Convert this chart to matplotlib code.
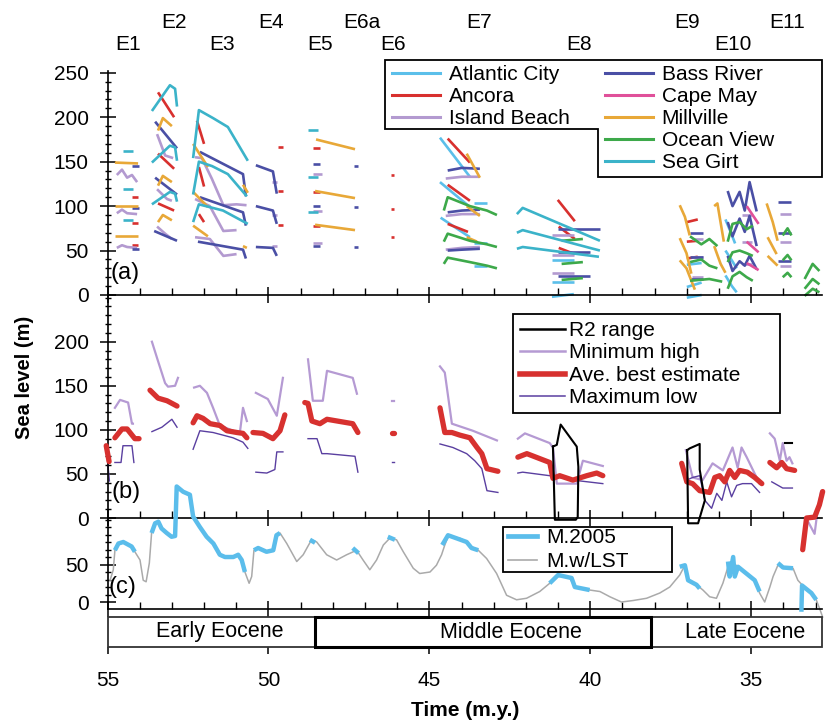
import matplotlib
matplotlib.use('Agg')
import matplotlib.pyplot as plt
from matplotlib.lines import Line2D
from matplotlib.patches import Polygon, Rectangle
from matplotlib.ticker import MultipleLocator, FixedLocator
import matplotlib.transforms as mtransforms

plt.rcParams['font.family'] = ['Liberation Sans', 'DejaVu Sans']

# ---------------- colours ----------------
C_AC = '#5bbfea'   # Atlantic City
C_AN = '#d8302e'   # Ancora
C_IB = '#b39ad0'   # Island Beach
C_BR = '#4a4fa5'   # Bass River
C_CM = '#e0509a'   # Cape May
C_MV = '#e8a838'   # Millville
C_OV = '#3da94a'   # Ocean View
C_SG = '#3bb3c9'   # Sea Girt

# ---------------- sequence labels ----------------
seq_top_names = ['E2', 'E4', 'E6a', 'E7', 'E9', 'E11']
seq_top_times = [52.93, 49.92, 47.10, 43.46, 37.00, 33.89]
seq_low_names = ['E1', 'E3', 'E5', 'E6', 'E8', 'E10']
seq_low_times = [54.36, 51.44, 48.40, 46.14, 40.36, 35.57]

# ---------------- panel (a): wells, segments (time Ma, sea level m) ----------------
atlantic_city = [
    ([44.67, 43.74], [177, 133]), ([44.67, 43.74], [127, 99]), ([44.65, 43.74], [87, 65]),
    ([43.62, 43.21], [104, 104]), ([43.62, 43.21], [58, 58]), ([43.62, 43.21], [33, 33]),
    ([41.19, 40.51], [39, 39]), ([41.19, 40.51], [15, 15]), ([41.19, 40.51], [-2, 1]),
    ([37.00, 36.54], [34, 36]), ([37.00, 36.54], [9, 14]), ([37.00, 36.54], [-3, 0]),
    ([35.80, 35.65, 35.50], [85, 72, 58]), ([35.80, 35.62, 35.45], [50, 40, 30]),
    ([35.80, 35.60, 35.45], [22, 10, 3]),
]
ancora = [
    ([54.24, 54.05], [110, 110]), ([54.24, 54.05], [81, 81]), ([54.24, 54.05], [56, 56]),
    ([53.43, 52.93], [228, 200]), ([53.43, 52.93], [159, 142]), ([53.43, 52.93], [103, 95]),
    ([52.22, 52.00], [196, 170]), ([52.16, 52.00], [144, 122]), ([52.16, 52.00], [91, 82]),
    ([49.70, 49.55], [166, 166]), ([49.70, 49.55], [117, 117]), ([49.70, 49.55], [79, 79]),
    ([48.62, 48.40], [165, 165]), ([48.62, 48.40], [116, 116]), ([48.62, 48.40], [78, 78]),
    ([46.20, 46.10], [135, 135]), ([46.20, 46.10], [97, 97]), ([46.20, 46.10], [65, 65]),
    ([44.43, 43.74], [176, 149]), ([44.43, 43.74], [124, 106]), ([44.43, 43.80], [80, 71]),
    ([41.01, 40.48], [107, 83]), ([40.98, 40.48], [77, 63]), ([40.98, 40.48], [53, 46]),
    ([37.00, 36.66], [82, 85]), ([37.00, 36.66], [60, 61]), ([37.00, 36.66], [41, 43]),
]
island_beach = [
    ([54.71, 54.55, 54.39, 54.24, 54.08], [135, 141, 132, 135, 127]),
    ([54.71, 54.55, 54.39, 54.08], [92, 96, 92, 91]),
    ([54.71, 54.55, 54.39, 54.08], [53, 56, 54, 53]),
    ([53.46, 53.21, 52.96], [181, 157, 154]),
    ([53.46, 53.15, 53.00], [119, 108, 106]),
    ([53.46, 53.21, 53.00], [77, 69, 63]),
    ([52.28, 52.07, 51.76, 51.40, 50.99, 50.68], [155, 154, 131, 101, 102, 101]),
    ([52.28, 51.82, 51.40, 50.99], [108, 100, 72, 73]),
    ([52.28, 51.82, 51.40, 50.99], [65, 63, 44, 46]),
    ([49.89, 49.74], [127, 127]), ([49.89, 49.74], [90, 90]), ([49.89, 49.74], [55, 55]),
    ([48.62, 48.34], [136, 136]), ([48.62, 48.34], [95, 95]), ([48.62, 48.34], [58, 58]),
    ([44.49, 43.99, 43.43], [131, 133, 133]), ([44.49, 43.99, 43.43], [89, 91, 91]),
    ([44.49, 43.99, 43.43], [51, 53, 54]),
    ([41.19, 40.51], [68, 68]), ([41.19, 40.51], [45, 45]), ([41.19, 40.51], [25, 25]),
    ([36.85, 36.51], [63, 63]), ([36.85, 36.51], [43, 43]), ([36.85, 36.51], [20, 20]),
    ([35.30, 34.99], [90, 90]), ([35.30, 34.99], [60, 60]), ([35.30, 34.99], [35, 35]),
    ([34.11, 33.75], [91, 91]), ([34.11, 33.75], [60, 60]), ([34.11, 33.75], [33, 33]),
]
bass_river = [
    ([54.24, 54.02], [145, 145]), ([54.24, 54.02], [98, 98]), ([54.24, 54.02], [52, 52]),
    ([53.52, 52.84], [195, 165]), ([53.52, 52.84], [132, 113]), ([53.55, 52.84], [72, 61]),
    ([52.13, 50.79, 50.70], [161, 136, 111]), ([52.13, 50.79, 50.70], [110, 93, 78]),
    ([52.19, 50.79, 50.70], [60, 51, 41]),
    ([50.39, 49.86, 49.74], [146, 139, 114]), ([50.39, 49.86, 49.74], [100, 95, 80]),
    ([50.39, 49.86, 49.74], [54, 53, 44]),
    ([48.62, 48.40], [147, 147]), ([48.62, 48.40], [100, 100]), ([48.62, 48.40], [55, 55]),
    ([47.35, 47.22], [145, 145]), ([47.35, 47.22], [99, 99]), ([47.35, 47.22], [54, 54]),
    ([44.43, 43.99, 43.43], [140, 143, 142]), ([44.43, 43.99, 43.43], [93, 95, 96]),
    ([44.43, 43.99, 43.43], [50, 51, 52]),
    ([41.01, 39.70], [74, 74]), ([41.01, 40.02], [48, 48]), ([41.01, 40.02], [21, 21]),
    ([36.91, 36.51], [70, 70]), ([36.91, 36.51], [43, 43]), ([36.91, 36.51], [18, 18]),
    ([35.73, 35.58, 35.36, 35.20, 35.05, 34.83], [117, 100, 116, 95, 127, 94]),
    ([35.73, 35.58, 35.36, 35.20, 35.05, 34.83], [82, 66, 86, 71, 89, 55]),
    ([35.73, 35.58, 35.36, 35.20, 35.05, 34.83], [44, 27, 38, 33, 44, 29]),
    ([34.18, 33.75], [105, 105]), ([34.18, 33.75], [70, 70]), ([34.18, 33.75], [38, 38]),
]
cape_may = [
    ([35.14, 34.77], [100, 80]), ([35.14, 34.77], [60, 48]), ([35.14, 34.77], [36, 28]),
]
millville = [
    ([54.77, 54.05], [149, 148]), ([54.77, 54.05], [100, 100]), ([54.77, 54.05], [66, 66]),
    ([53.43, 53.28, 53.00], [185, 199, 190]), ([53.43, 53.28, 53.00], [123, 134, 127]),
    ([53.43, 53.28, 53.00], [82, 90, 84]),
    ([52.34, 51.88], [170, 144]), ([52.34, 51.88], [116, 99]), ([52.34, 51.88], [78, 66]),
    ([50.79, 50.64], [124, 115]), ([50.79, 50.67], [55, 53]),
    ([48.52, 47.31], [175, 164]), ([48.55, 47.31], [117, 109]), ([48.55, 47.31], [79, 73]),
    ([43.84, 43.43], [159, 132]), ([43.84, 43.43], [100, 89]), ([43.84, 43.52], [65, 60]),
    ([37.22, 37.06, 36.91], [101, 88, 67]), ([37.22, 37.01, 36.86], [64, 47, 24]),
    ([37.22, 37.01, 36.75], [39, 30, 6]),
    ([36.15, 36.05, 35.85], [100, 103, 60]), ([36.15, 35.95, 35.80], [55, 35, 25]),
    ([34.52, 34.33, 34.18], [103, 82, 61]), ([34.49, 34.21], [65, 46]), ([34.49, 34.18], [44, 33]),
]
ocean_view = [
    ([44.55, 44.43, 43.74, 43.21, 42.90], [95, 110, 100, 95, 90]),
    ([44.55, 44.43, 43.74, 43.21, 42.90], [60, 69, 61, 57, 54]),
    ([44.55, 44.43, 43.74, 43.21, 42.90], [35, 42, 37, 33, 30]),
    ([40.89, 40.23], [61, 63]), ([40.89, 40.23], [35, 37]), ([40.89, 40.23], [17, 19]),
    ([36.90, 36.55, 36.30, 36.05], [66, 57, 63, 55]),
    ([36.90, 36.55, 36.30, 36.05], [37, 40, 33, 30]),
    ([36.90, 36.30, 35.90], [16, 18, 15]),
    ([35.73, 35.58, 35.36, 35.14, 34.95], [60, 80, 82, 74, 78]),
    ([35.73, 35.58, 35.36, 35.14, 34.95], [37, 48, 50, 47, 44]),
    ([35.73, 35.58, 35.36, 35.14, 34.95], [7, 21, 26, 20, 16]),
    ([34.02, 33.87, 33.75], [67, 75, 67]), ([34.02, 33.87, 33.75], [39, 45, 39]),
    ([34.02, 33.87, 33.75], [20, 25, 20]),
    ([33.34, 33.09, 32.88], [18, 35, 27]), ([33.34, 33.09, 32.88], [7, 18, 12]),
    ([33.34, 33.09, 32.88], [-1, 7, 3]),
]
sea_girt = [
    ([54.52, 54.21], [162, 162]), ([54.52, 54.21], [119, 119]), ([54.52, 54.21], [84, 84]),
    ([53.62, 53.06, 52.90, 52.84], [207, 236, 232, 212]),
    ([53.62, 53.06, 52.90, 52.84], [149, 168, 166, 151]),
    ([53.62, 53.06, 52.90, 52.84], [102, 116, 114, 105]),
    ([52.34, 52.16, 51.72, 51.26, 50.64], [154, 208, 199, 189, 151]),
    ([52.34, 52.16, 51.75, 51.26, 50.67], [113, 150, 145, 136, 111]),
    ([52.34, 52.16, 51.41, 50.64], [82, 102, 95, 80]),
    ([48.77, 48.46], [186, 186]), ([48.77, 48.46], [133, 133]), ([48.77, 48.46], [93, 93]),
    ([42.28, 42.10, 39.70], [91, 98, 61]), ([42.28, 42.10, 39.70], [70, 73, 50]),
    ([42.28, 42.10, 39.73], [52, 54, 43]),
]

wells_left = [('Atlantic City', C_AC, atlantic_city), ('Ancora', C_AN, ancora),
              ('Island Beach', C_IB, island_beach)]
wells_right = [('Bass River', C_BR, bass_river), ('Cape May', C_CM, cape_may),
               ('Millville', C_MV, millville), ('Ocean View', C_OV, ocean_view),
               ('Sea Girt', C_SG, sea_girt)]

# ---------------- panel (b) ----------------
min_high = [
    ([54.77, 54.61, 54.36, 54.24, 54.21], [125, 134, 131, 107, 107]),
    ([53.62, 53.43, 53.21, 53.12, 52.90, 52.81], [200, 178, 153, 149, 150, 159]),
    ([52.31, 52.13, 51.91, 51.72, 51.51, 50.89, 50.79, 50.67], [148, 150, 142, 125, 105, 96, 125, 110]),
    ([50.39, 50.02, 49.74, 49.55], [142, 135, 116, 159]),
    ([48.77, 48.62, 48.31, 48.18, 47.38, 47.25], [180, 133, 133, 167, 159, 141]),
    ([46.17, 46.10], [133, 133]),
    ([44.67, 44.52, 44.30, 43.65, 42.90], [172, 165, 107, 99, 88]),
    ([42.25, 42.03, 41.26, 41.16, 41.04, 40.42, 40.23, 39.61], [90, 96, 85, 80, 39, 39, 65, 59]),
    ([37.03, 36.82, 36.51, 36.20, 35.88, 35.58, 35.42, 35.30, 35.14, 34.74],
     [77, 46, 43, 62, 54, 80, 57, 80, 69, 39]),
    ([34.42, 34.27, 34.11, 34.02, 33.90, 33.81, 33.72], [96, 90, 65, 85, 65, 69, 62]),
    ([33.22, 33.03, 32.95, 32.83], [-5, -18, 5, 30]),
]
max_low = [
    ([55.00, 54.94], [65, 42]),
    ([54.77, 54.58, 54.52, 54.24, 54.18], [63, 63, 82, 82, 63]),
    ([53.62, 53.31, 53.00, 52.84], [98, 103, 112, 103]),
    ([52.34, 52.13, 51.72, 51.10, 50.79, 50.64], [78, 99, 97, 91, 86, 79]),
    ([50.39, 50.05, 49.80, 49.74, 49.55], [52, 51, 55, 75, 75]),
    ([48.77, 48.49, 48.34, 48.18, 47.31, 47.22], [90, 90, 73, 73, 70, 52]),
    ([46.17, 46.10], [63, 63]),
    ([44.67, 44.27, 43.84, 43.59, 43.37, 43.21, 42.87], [84, 80, 73, 65, 56, 31, 29]),
    ([42.25, 42.10, 41.26, 40.54, 39.61], [51, 52, 48, 43, 39]),
    ([37.00, 36.82, 36.60, 36.44, 36.23, 36.07, 35.91, 35.76, 35.61, 35.45, 35.27, 34.99, 34.74],
     [43, 46, 48, 20, 11, 28, 20, 41, 24, 37, 39, 39, 29]),
    ([34.36, 34.02, 33.72], [41, 34, 34]),
]
best_estimate = [
    ([55.04, 54.95], [82, 64]),
    ([54.77, 54.55, 54.39, 54.15, 54.02], [91, 101, 101, 90, 90]),
    ([53.68, 53.43, 53.15, 52.84], [145, 136, 133, 127]),
    ([52.34, 52.22, 52.03, 51.81, 51.51, 51.29, 50.98, 50.79, 50.67], [108, 116, 113, 107, 105, 99, 97, 96, 91]),
    ([50.48, 50.17, 49.86, 49.64, 49.49], [97, 96, 90, 99, 117]),
    ([48.87, 48.77, 48.65, 48.40, 48.18, 47.38, 47.22], [131, 130, 110, 107, 112, 107, 97]),
    ([46.16, 46.10], [96, 96]),
    ([44.67, 44.52, 44.30, 44.05, 43.74, 43.52, 43.37, 43.21, 42.87], [125, 97, 97, 94, 91, 80, 73, 56, 53]),
    ([42.25, 41.97, 41.26, 41.16, 40.95, 40.54, 40.11, 39.80, 39.61], [69, 73, 63, 45, 48, 43, 48, 51, 48]),
    ([37.16, 37.00, 36.82, 36.60, 36.29, 36.13, 35.98, 35.82, 35.67, 35.51, 35.36, 35.12, 34.89, 34.67],
     [62, 41, 39, 31, 29, 46, 48, 41, 54, 46, 54, 52, 46, 39]),
    ([34.42, 34.21, 34.05, 33.90, 33.65], [63, 57, 63, 56, 54]),
    ([33.40, 33.28, 33.03, 32.88, 32.78], [-36, 0, 1, 15, 30]),
]
r2_range = [
    ([41.16, 41.04, 40.92, 40.42, 40.37, 40.39, 40.45, 41.10, 41.16], [81, 83, 106, 81, 58, 1, -2, -2, 81]),
    ([36.99, 36.91, 36.60, 36.60, 36.44, 36.65, 36.96, 36.99], [77, 79, 84, 55, 20, -6, -6, 77]),
    ([33.96, 33.72], [85, 85]),
]

# ---------------- panel (c) ----------------
lst_time = [54.92, 54.82, 54.77, 54.66, 54.51, 54.25, 54.15, 53.99, 53.89, 53.80, 53.70, 53.63,
            53.52, 53.42, 53.32, 53.16, 53.01, 52.90, 52.85, 52.65, 52.44, 52.34, 52.13, 51.92,
            51.71, 51.51, 51.35, 51.09, 50.94, 50.83, 50.73, 50.60, 50.52, 50.45, 50.32, 50.06,
            49.85, 49.75, 49.64, 49.43, 49.12, 48.92, 48.66, 48.50, 48.19, 47.88, 47.57, 47.26,
            47.06, 46.85, 46.64, 46.43, 46.23, 46.02, 45.81, 45.50, 45.30, 44.98, 44.78, 44.62,
            44.52, 44.42, 44.26, 44.05, 43.84, 43.69, 43.48, 43.22, 42.91, 42.60, 42.29, 41.98,
            41.57, 41.26, 41.00, 40.79, 40.64, 40.48, 40.33, 40.02, 39.70, 39.39, 39.03, 38.67,
            38.25, 37.84, 37.53, 37.22, 37.06, 36.96, 36.70, 36.50, 36.29, 36.08, 35.88, 35.72,
            35.56, 35.41, 35.15, 34.89, 34.74, 34.58, 34.42, 34.32, 34.17, 34.01, 33.70, 33.55,
            33.40, 33.13, 32.98, 32.88, 32.78]
lst_level = [29, 43, 69, 78, 80, 74, 67, 56, 29, 27, 52, 92,
             105, 107, 98, 92, 87, 88, 154, 147, 143, 114, 100, 87,
             78, 63, 60, 60, 63, 56, 40, 25, 34, 69, 72, 67,
             69, 89, 92, 78, 54, 63, 83, 80, 63, 56, 63, 69,
             56, 43, 56, 76, 85, 83, 67, 45, 38, 40, 49, 63,
             76, 87, 87, 85, 80, 74, 69, 58, 38, 9, 3, 5,
             14, 25, 34, 34, 32, 20, 18, 16, 14, 7, 0, 2,
             5, 12, 20, 36, 49, 29, 23, 16, 7, 5, 25, 47,
             52, 47, 38, 29, 12, 0, 20, 34, 49, 47, 45, 29,
             22, 12, 3, -8, -20]
m2005 = [
    ([54.77, 54.66, 54.51, 54.25, 54.15], [69, 78, 80, 74, 67]),
    ([53.63, 53.52, 53.42, 53.32, 53.16, 53.01, 52.90, 52.85, 52.65, 52.44, 52.34, 52.13, 51.92,
      51.71, 51.51, 51.35, 51.09, 50.94, 50.83, 50.73],
     [92, 105, 107, 98, 92, 87, 88, 154, 147, 143, 114, 100, 87, 78, 63, 60, 60, 63, 56, 40]),
    ([50.45, 50.32, 50.06, 49.85, 49.75, 49.64], [69, 72, 67, 69, 89, 92]),
    ([48.71, 48.55], [83, 79]),
    ([47.38, 47.20], [72, 65]),
    ([46.29, 46.07], [87, 83]),
    ([44.60, 44.42, 44.16, 43.84, 43.69, 43.48], [76, 89, 85, 80, 72, 69]),
    ([41.26, 41.00, 40.79, 40.58, 40.48, 40.02], [25, 36, 34, 32, 20, 16]),
    ([37.22, 37.06, 36.96, 36.70, 36.60], [47, 49, 29, 23, 18]),
    ([35.72, 35.67, 35.56, 35.51, 35.41, 35.15, 34.89, 34.74], [54, 34, 60, 34, 47, 38, 29, 14]),
    ([34.17, 34.01, 33.70], [52, 46, 45]),
    ([33.44, 33.42, 33.13, 32.98], [-13, 22, 12, 3]),
]

# ---------------- stratigraphy ----------------
epoch_names = ['Early Eocene', 'Middle Eocene', 'Late Eocene']
epoch_start = [55.0, 48.55, 38.10]
epoch_end = [48.55, 38.10, 32.80]
epoch_label_time = [51.51, 42.47, 35.20]

# ---------------- figure ----------------
W, H = 827.0, 728.0
fig = plt.figure(figsize=(W / 100, H / 100), dpi=100)


def rect(x0, y_top, x1, y_bot):
    return [x0 / W, 1 - y_bot / H, (x1 - x0) / W, (y_bot - y_top) / H]


ax_a = fig.add_axes(rect(107.5, 71, 822, 295))
ax_b = fig.add_axes(rect(107.5, 295, 822, 518))
ax_c = fig.add_axes(rect(107.5, 518, 822, 609))
ax_s = fig.add_axes(rect(107.5, 617, 822, 647))

FS = 15
XLIM = (55, 32.8)
for ax in (ax_a, ax_b, ax_c):
    ax.set_xlim(*XLIM)
    ax.patch.set_alpha(0)
    ax.spines['top'].set_visible(False)
    ax.spines['right'].set_visible(False)
    for s in ('left', 'bottom'):
        ax.spines[s].set_linewidth(1.2)
    ax.xaxis.set_major_locator(MultipleLocator(5))
    ax.xaxis.set_minor_locator(MultipleLocator(1))
    ax.tick_params(axis='x', which='major', direction='inout', length=11, width=1.1,
                   labelbottom=False)
    ax.tick_params(axis='x', which='minor', direction='in', length=5, width=1.0)
    ax.yaxis.set_minor_locator(MultipleLocator(10))
    ax.tick_params(axis='y', which='major', direction='inout', length=11, width=1.1,
                   labelsize=FS, pad=8)
    ax.tick_params(axis='y', which='minor', direction='inout', length=5, width=1.0)

ax_a.set_ylim(0, 252)
ax_a.yaxis.set_major_locator(FixedLocator([0, 50, 100, 150, 200, 250]))
ax_b.set_ylim(0, 253)
ax_b.yaxis.set_major_locator(FixedLocator([0, 50, 100, 150, 200]))
ax_c.set_ylim(-9.3, 112)
ax_c.yaxis.set_major_locator(FixedLocator([0, 50]))

# panel (a)
LW_A = 1.9
for name, col, segs in wells_left + wells_right:
    for ts, vs in segs:
        ax_a.plot(ts, vs, color=col, lw=LW_A, solid_capstyle='butt', clip_on=False, zorder=2)

# stepped legend frame for panel (a)
frame_pts = [(0.3884, 1.0491), (1.0, 1.0491), (1.0, 0.5268), (0.6865, 0.5268),
             (0.6865, 0.7411), (0.3884, 0.7411)]
ax_a.add_patch(Polygon(frame_pts, closed=True, transform=ax_a.transAxes, facecolor='white',
                       edgecolor='black', lw=1.3, clip_on=False, zorder=4))
leg_kw = dict(loc='upper left', frameon=False, fontsize=FS, handlelength=2.3,
              handletextpad=0.42, labelspacing=0.15, borderpad=0, borderaxespad=0)
leg1 = ax_a.legend([Line2D([], [], color=c, lw=2.2) for _, c, _ in wells_left],
                   [n for n, _, _ in wells_left], bbox_to_anchor=(0.3982, 1.027), **leg_kw)
leg1.set_zorder(5)
ax_a.add_artist(leg1)
leg2 = ax_a.legend([Line2D([], [], color=c, lw=2.2) for _, c, _ in wells_right],
                   [n for n, _, _ in wells_right], bbox_to_anchor=(0.6963, 1.027), **leg_kw)
leg2.set_zorder(5)

# panel (b)
C_MH = '#b59ad3'
C_ML = '#5a3fa0'
C_BE = '#d7312f'
for ts, vs in min_high:
    ax_b.plot(ts, vs, color=C_MH, lw=1.6, clip_on=False, zorder=2)
for ts, vs in max_low:
    ax_b.plot(ts, vs, color=C_ML, lw=1.0, clip_on=False, zorder=2)
for ts, vs in best_estimate:
    ax_b.plot(ts, vs, color=C_BE, lw=3.8, solid_capstyle='round', solid_joinstyle='round',
              clip_on=False, zorder=3)
for ts, vs in r2_range:
    ax_b.plot(ts, vs, color='black', lw=1.5, clip_on=False, zorder=3)

ax_b.add_patch(Rectangle((0.5675, 0.4709), 0.3741, 0.4439, transform=ax_b.transAxes,
                         facecolor='white', edgecolor='black', lw=1.3, zorder=4))
leg_b = ax_b.legend([Line2D([], [], color='black', lw=1.8), Line2D([], [], color=C_MH, lw=1.8),
                     Line2D([], [], color=C_BE, lw=4.0), Line2D([], [], color=C_ML, lw=1.1)],
                    ['R2 range', 'Minimum high', 'Ave. best estimate', 'Maximum low'],
                    loc='upper left', bbox_to_anchor=(0.5773, 0.884), frameon=False,
                    fontsize=FS, handlelength=2.15, handletextpad=0.2, labelspacing=0.17,
                    borderpad=0, borderaxespad=0)
leg_b.set_zorder(5)

# panel (c)
C_M05 = '#5bbdeb'
ax_c.plot(lst_time, lst_level, color='#aaaaaa', lw=1.1, clip_on=False, zorder=2)
for ts, vs in m2005:
    ax_c.plot(ts, vs, color=C_M05, lw=3.2, solid_capstyle='butt', clip_on=False, zorder=3)
ax_c.add_patch(Rectangle((0.5535, 0.4066), 0.2366, 0.4945, transform=ax_c.transAxes,
                         facecolor='white', edgecolor='black', lw=1.3, zorder=4))
leg_c = ax_c.legend([Line2D([], [], color=C_M05, lw=3.4), Line2D([], [], color='#aaaaaa', lw=1.2)],
                    ['M.2005', 'M.w/LST'], loc='upper left', bbox_to_anchor=(0.5605, 0.89),
                    frameon=False, fontsize=FS, handlelength=1.4, handletextpad=0.43,
                    labelspacing=0.25, borderpad=0, borderaxespad=0)
leg_c.set_zorder(5)

# panel letters
ax_a.text(0.004, 0.10, '(a)', transform=ax_a.transAxes, fontsize=17, va='center', ha='left')
ax_b.text(0.006, 0.115, '(b)', transform=ax_b.transAxes, fontsize=17, va='center', ha='left')
ax_c.text(0.001, 0.24, '(c)', transform=ax_c.transAxes, fontsize=17, va='center', ha='left')

# sequence labels above panel (a)
trans_top = mtransforms.blended_transform_factory(ax_a.transData, fig.transFigure)
for n, t in zip(seq_top_names, seq_top_times):
    ax_a.text(t, 1 - 22 / H, n, transform=trans_top, ha='center', va='center', fontsize=FS)
for n, t in zip(seq_low_names, seq_low_times):
    ax_a.text(t, 1 - 45 / H, n, transform=trans_top, ha='center', va='center', fontsize=FS)

# stratigraphic bar
ax_s.set_xlim(*XLIM)
ax_s.set_ylim(0, 1)
for s in ax_s.spines.values():
    s.set_visible(False)
ax_s.set_yticks([])
ax_s.xaxis.set_major_locator(MultipleLocator(5))
ax_s.tick_params(axis='x', which='major', direction='out', length=5, width=1.1,
                 labelsize=FS, pad=12)
for i, (n, t0, t1, tl) in enumerate(zip(epoch_names, epoch_start, epoch_end, epoch_label_time)):
    lw = 2.2 if i == 1 else 1.3
    ec = 'black' if i == 1 else '#333333'
    ax_s.add_patch(Rectangle((t1, 0), t0 - t1, 1, facecolor='white', edgecolor=ec, lw=lw,
                             clip_on=False, zorder=2 + i % 2))
    ax_s.text(tl, 0.5, n, ha='center', va='center', fontsize=15.5, zorder=5)

# axis titles
fig.text(24 / W, 1 - 377 / H, 'Sea level (m)', rotation=90, ha='center', va='center',
         fontsize=14.5, fontweight='bold')
fig.text(465 / W, 1 - 710 / H, 'Time (m.y.)', ha='center', va='center',
         fontsize=15, fontweight='bold')

fig.savefig('out.png', dpi=100)
